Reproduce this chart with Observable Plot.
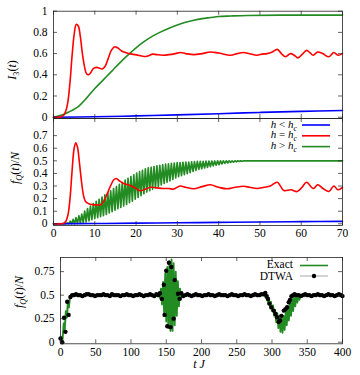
<!DOCTYPE html>
<html><head><meta charset="utf-8">
<script src="https://cdn.jsdelivr.net/npm/d3@7"></script>
<script src="https://cdn.jsdelivr.net/npm/@observablehq/plot@0.6"></script>
<style>
body{margin:0;background:#fff;}
#wrap{position:relative;width:360px;height:375px;overflow:hidden;background:#fff;}
#wrap svg, #wrap svg text{font-family:'Liberation Serif','DejaVu Serif',serif !important;}
</style></head><body><div id="wrap"></div>
<script>
// ---------- DATA ----------
// Panel 1: I_3(t)
const i3Blue = [[0,0],[10,0.004],[20,0.012],[30,0.022],[40,0.033],[50,0.045],[60,0.055],[70,0.063]];
const i3Red = [[0,0],[1,0],[2,0.005],[2.5,0.02],[3,0.06],[3.5,0.15],[4,0.33],[4.5,0.58],[5,0.78],[5.5,0.875],[6,0.86],[6.5,0.76],[7,0.6],[7.5,0.48],[8,0.41],[8.5,0.4],[9,0.42],[9.7,0.46],[10.4,0.47],[11,0.465],[11.8,0.455],[12.5,0.48],[13.3,0.56],[14,0.63],[14.8,0.665],[15.5,0.655],[16.5,0.625],[17.8,0.605],[19,0.595],[20.5,0.585],[22,0.572],[23,0.58],[24,0.595],[25,0.59],[26.5,0.585],[28,0.59],[29.5,0.6],[30.7,0.61],[32,0.6],[34,0.59],[36,0.6],[38,0.615],[40,0.605],[42.9,0.585],[44.5,0.6],[46,0.61],[47.5,0.598],[49.3,0.585],[50.5,0.595],[51.7,0.6],[53,0.615],[54.2,0.64],[55.2,0.6],[56.2,0.57],[57.4,0.6],[58.3,0.585],[59.2,0.56],[60.3,0.595],[61.3,0.63],[62.1,0.61],[62.9,0.585],[64,0.615],[65.2,0.6],[66.7,0.57],[67.9,0.61],[68.9,0.585],[70,0.6]];
const i3Green = [[0,0],[2,0.02],[4,0.055],[5,0.075],[6,0.1],[8,0.18],[10,0.27],[12,0.35],[14,0.43],[16,0.51],[18,0.585],[20,0.655],[22,0.715],[24,0.765],[26,0.805],[28,0.84],[30,0.87],[32,0.895],[34,0.915],[36,0.93],[38,0.94],[40,0.95],[43,0.955],[47,0.96],[55,0.963],[70,0.963]];

// Panel 2: f_Q(t)/N
const fqBlue = [[0,0],[10,0.002],[20,0.005],[30,0.008],[40,0.011],[50,0.014],[60,0.017],[70,0.019]];
const fqRed = [[0,0],[2,0],[2.5,0.005],[3,0.02],[3.5,0.07],[4,0.2],[4.5,0.42],[5,0.6],[5.4,0.643],[5.8,0.61],[6.3,0.48],[6.8,0.33],[7.3,0.22],[7.8,0.175],[8.5,0.16],[9.5,0.152],[10.5,0.15],[11.3,0.15],[12,0.17],[12.9,0.23],[13.8,0.3],[14.6,0.35],[15.2,0.36],[16,0.34],[17,0.32],[18,0.31],[19.5,0.29],[21,0.262],[22.2,0.275],[23.5,0.29],[25,0.285],[26.7,0.28],[28,0.28],[29,0.275],[30.7,0.3],[32,0.29],[34,0.278],[36,0.295],[38,0.31],[40,0.29],[42,0.278],[44,0.29],[46,0.298],[47.5,0.29],[49.3,0.28],[51,0.29],[52.5,0.3],[54.2,0.33],[55.8,0.264],[57.5,0.27],[59,0.256],[60.2,0.29],[61.3,0.33],[62.9,0.28],[64,0.31],[65.3,0.28],[66.7,0.256],[67.9,0.3],[68.9,0.27],[70,0.29]];
// fast oscillation of h > h_c: trough and crest values, one pair per period
const fqGreenStart = 3, fqGreenPeriod = 0.7, fqGreenEnd = 70;
const fqGreenTroughs = [0,0,0,0,0.003,0.006,0.009,0.015,0.023,0.032,0.04,0.048,0.057,0.065,0.075,0.086,0.097,0.108,0.12,0.13,0.142,0.154,0.168,0.18,0.196,0.21,0.224,0.238,0.252,0.263,0.274,0.285,0.296,0.308,0.32,0.33,0.341,0.352,0.364,0.374,0.382,0.39,0.399,0.407,0.416,0.424,0.432,0.437,0.443,0.448,0.454,0.46,0.465,0.47,0.475,0.479,0.483,0.487,0.49,0.492,0.495,0.497,0.499];
const fqGreenCrests = [0.007,0.021,0.035,0.049,0.063,0.077,0.101,0.121,0.141,0.16,0.178,0.195,0.212,0.229,0.246,0.262,0.279,0.296,0.313,0.33,0.346,0.361,0.375,0.389,0.402,0.414,0.425,0.436,0.444,0.449,0.455,0.46,0.465,0.469,0.473,0.476,0.479,0.482,0.485,0.486,0.488,0.489,0.49,0.492,0.493,0.495,0.495,0.496,0.497,0.497,0.498,0.499,0.5,0.5,0.5,0.5,0.5,0.5,0.5,0.5,0.5,0.5,0.5];

// Panel 3: Exact vs DTWA, t J from 0 to 400
const exact = [[0,0],[1.5,0.06],[3,0.03],[4.5,0.2],[6,0.13],[7.5,0.33],[9,0.26],[10.5,0.43],[12,0.37],[13.5,0.49],[15,0.47],[16.5,0.5],[138,0.5],[139.5,0.52],[141,0.47],[142.5,0.57],[144,0.4],[145.5,0.64],[147,0.3],[148.5,0.73],[150,0.22],[151.5,0.8],[153,0.15],[154.5,0.86],[156,0.12],[157.5,0.88],[159,0.12],[160.5,0.84],[162,0.18],[163.5,0.75],[165,0.28],[166.5,0.65],[168,0.38],[169.5,0.57],[171,0.46],[172.5,0.52],[174,0.49],[175.5,0.5],[288,0.5],[289.5,0.5],[291,0.47],[292.5,0.5],[294,0.43],[295.5,0.47],[297,0.38],[298.5,0.43],[300,0.33],[301.5,0.39],[303,0.28],[304.5,0.34],[306,0.21],[307.5,0.31],[309,0.15],[310.5,0.28],[312,0.11],[313.5,0.26],[315,0.1],[316.5,0.28],[318,0.13],[319.5,0.33],[321,0.18],[322.5,0.38],[324,0.23],[325.5,0.42],[327,0.28],[328.5,0.46],[330,0.33],[331.5,0.49],[333,0.38],[334.5,0.5],[336,0.42],[337.5,0.5],[339,0.45],[340.5,0.5],[342,0.48],[343.5,0.5],[345,0.5],[400,0.5]];
const dtwaRise = [[0,0.04],[2.5,0],[5,0.26],[7,0.11],[9.5,0.43],[11.5,0.29],[14,0.48],[16.5,0.5]];
const dtwaFlat1 = [[19,0.5],[22,0.51],[25,0.5],[28,0.5],[31,0.49],[34,0.5],[37,0.51],[40,0.51],[43,0.5],[46,0.5],[49,0.49],[52,0.5],[55,0.5],[58,0.5],[61,0.51],[64,0.5],[67,0.5],[70,0.49],[73,0.51],[76,0.5],[79,0.5],[82,0.5],[85,0.49],[88,0.5],[91,0.5],[94,0.51],[97,0.5],[100,0.5],[103,0.49],[106,0.5],[109,0.5],[112,0.51],[115,0.5],[118,0.49],[121,0.5],[124,0.5],[127,0.51],[130,0.5],[133,0.49],[136,0.51],[138.5,0.5]];
const dtwaBurst = [[141,0.52],[143.8,0.46],[146.5,0.61],[147.6,0.29],[150,0.76],[151.5,0.17],[153.8,0.845],[156,0.16],[157.3,0.8],[160.5,0.25],[162,0.66],[166.7,0.515],[169,0.46],[171.5,0.52],[174,0.49]];
const dtwaFlat2 = [[177,0.5],[180,0.51],[183,0.5],[186,0.49],[189,0.5],[192,0.51],[195,0.5],[198,0.5],[201,0.49],[204,0.5],[207,0.5],[210,0.51],[213,0.5],[216,0.5],[219,0.49],[222,0.5],[225,0.51],[228,0.5],[231,0.5],[234,0.5],[237,0.49],[240,0.5],[243,0.51],[246,0.5],[249,0.5],[252,0.49],[255,0.5],[258,0.5],[261,0.51],[264,0.5],[267,0.5],[270,0.49],[273,0.5],[276,0.51],[279,0.5],[282,0.5],[285,0.51]];
const dtwaDip = [[288,0.51],[290.5,0.524],[292.5,0.49],[294.3,0.46],[296.2,0.41],[299,0.37],[302.4,0.336],[304.8,0.3],[307.1,0.265],[309.5,0.215],[311.5,0.23],[313.3,0.28],[316.7,0.336],[319,0.35],[321.4,0.371],[323.8,0.424],[325.5,0.45],[327.6,0.488],[330,0.5]];
const dtwaFlat3 = [[332,0.51],[335,0.5],[338,0.5],[341,0.49],[344,0.5],[347,0.51],[350,0.5],[353,0.5],[356,0.49],[359,0.5],[362,0.5],[365,0.51],[368,0.5],[371,0.5],[374,0.49],[377,0.5],[380,0.51],[383,0.5],[386,0.5],[389,0.49],[392,0.5],[395,0.51],[398,0.5],[400,0.49]];

// ticks
const ticks1Y = [0,0.2,0.4,0.6,0.8,1];
const ticks2Y = [0,0.1,0.2,0.3,0.4,0.5,0.6,0.7];
const ticks3Y = [0,0.25,0.5,0.75];
const ticks12X = [0,10,20,30,40,50,60,70];
const ticks3X = [0,50,100,150,200,250,300,350,400];

// legend labels
const legend2 = [["<","#0000ff"],["=","#ff0000"],[">","#228b22"]];

// ---------- BUILD ----------
const FONT = "'Liberation Serif', 'DejaVu Serif', serif";
const BLUE = "#0000ff", RED = "#ff0000", GREEN = "#228b22";
const wrap = document.getElementById("wrap");

const fqGreen = [[0,0],[fqGreenStart,0]];
fqGreenTroughs.forEach((v,k) => {
  fqGreen.push([fqGreenStart + k*fqGreenPeriod, v]);
  fqGreen.push([fqGreenStart + (k+0.5)*fqGreenPeriod, fqGreenCrests[k]]);
});
fqGreen.push([fqGreenEnd, 0.5]);
const dtwa = [...dtwaRise, ...dtwaFlat1, ...dtwaBurst, ...dtwaFlat2, ...dtwaDip, ...dtwaFlat3];

const X = d => d[0], Y = d => d[1];

function panel(o) {
  const {top, height, mt, mb, ml, mr, xd, yd, xt, yt, showX, xpad, marks} = o;
  const W = 360, TL = 4;
  const dx = TL * (xd[1]-xd[0]) / (W-ml-mr);
  const dy = TL * (yd[1]-yd[0]) / (height-mt-mb);
  const tick = {stroke: "#222", strokeWidth: 0.7};
  const svg = Plot.plot({
    width: W, height, marginTop: mt, marginBottom: mb, marginLeft: ml, marginRight: mr,
    style: {background: "transparent", overflow: "visible", fontFamily: FONT, fontSize: "11.5px", color: "#000"},
    x: showX ? {domain: xd} : {domain: xd, axis: null},
    y: {domain: yd},
    marks: [
      ...marks,
      Plot.ruleY(yt, {y: d => d, x1: () => xd[0], x2: () => xd[0] + dx, ...tick}),
      Plot.ruleY(yt, {y: d => d, x1: () => xd[1] - dx, x2: () => xd[1], ...tick}),
      Plot.ruleX(xt, {x: d => d, y1: () => yd[0], y2: () => yd[0] + dy, ...tick}),
      Plot.ruleX(xt, {x: d => d, y1: () => yd[1] - dy, y2: () => yd[1], ...tick}),
      Plot.frame({stroke: "#222", strokeWidth: 0.8}),
      Plot.axisY(yt, {tickSize: 0, tickPadding: 6, tickFormat: d => String(d), label: null, fontFamily: FONT}),
      showX ? Plot.axisX(xt, {tickSize: 0, tickPadding: xpad, tickFormat: d => String(d), label: null, fontFamily: FONT}) : null
    ]
  });
  svg.style.position = "absolute"; svg.style.top = top + "px"; svg.style.left = "0px";
  wrap.appendChild(svg);
}

const lw = 1.6;
panel({top: 0, height: 125, mt: 10.7, mb: 7, ml: 53, mr: 18, xd: [0,70], yd: [-0.0123, 1],
  xt: ticks12X, yt: ticks1Y, showX: false,
  marks: [
    Plot.line(i3Green, {x: X, y: Y, stroke: GREEN, strokeWidth: lw, curve: "catmull-rom"}),
    Plot.line(i3Blue, {x: X, y: Y, stroke: BLUE, strokeWidth: lw, curve: "catmull-rom"}),
    Plot.line(i3Red, {x: X, y: Y, stroke: RED, strokeWidth: lw, curve: "catmull-rom"})
  ]});

panel({top: 110, height: 135, mt: 8, mb: 20, ml: 53, mr: 18, xd: [0,70], yd: [-0.0135, 0.836],
  xt: ticks12X, yt: ticks2Y, showX: true, xpad: 3.5,
  marks: [
    Plot.line(fqGreen, {x: X, y: Y, stroke: GREEN, strokeWidth: 1.7}),
    Plot.line(fqBlue, {x: X, y: Y, stroke: BLUE, strokeWidth: lw, curve: "catmull-rom"}),
    Plot.line(fqRed, {x: X, y: Y, stroke: RED, strokeWidth: lw, curve: "catmull-rom"})
  ]});

panel({top: 245, height: 130, mt: 12, mb: 31.7, ml: 60, mr: 18, xd: [0,400], yd: [-0.017, 0.9],
  xt: ticks3X, yt: ticks3Y, showX: true, xpad: 4,
  marks: [
    Plot.line(dtwa, {x: X, y: Y, stroke: "#d4d4d4", strokeWidth: 0.8}),
    Plot.line(exact, {x: X, y: Y, stroke: GREEN, strokeWidth: 1.8}),
    Plot.dot(dtwa, {x: X, y: Y, r: 2.2, fill: "#000", stroke: "none"})
  ]});

// ---------- overlay: axis titles & legends ----------
const ov = d3.select(wrap).append("svg")
  .attr("width", 360).attr("height", 375)
  .style("position", "absolute").style("left", 0).style("top", 0)
  .attr("font-family", FONT).attr("font-size", "12px");

function rich(parent, parts, attrs, size) {
  const t = parent.append("text").attr("font-size", size || 12);
  Object.entries(attrs).forEach(([k, v]) => t.attr(k, v));
  let shifted = 0;
  parts.forEach(([s, k]) => {
    const ts = t.append("tspan").text(s);
    if (k.includes("i")) ts.attr("font-style", "italic");
    if (k.includes("s")) {
      ts.attr("font-size", (size || 12) * 0.7).attr("dy", 3);
      shifted = 3;
    } else if (shifted) {
      ts.attr("dy", -shifted);
      shifted = 0;
    }
  });
  return t;
}
const fqLabel = [["f","i"],["Q","is"],["(",""],["t","i"],[")/",""],["N","i"]];
rich(ov, [["I","i"],["3","s"],["(",""],["t","i"],[")",""]], {transform: "translate(12,70) rotate(-90)", "text-anchor": "middle", dy: "0.35em"});
rich(ov, fqLabel, {transform: "translate(15,168) rotate(-90)", "text-anchor": "middle", dy: "0.35em"});
rich(ov, fqLabel, {transform: "translate(19,292) rotate(-90)", "text-anchor": "middle", dy: "0.35em"});
rich(ov, [["t","i"],[" ",""],["J","i"]], {x: 199, y: 368, "text-anchor": "middle"});

// legend (middle panel)
legend2.forEach(([op, col], i) => {
  const yc = 124.5 + i * 10.8;
  rich(ov, [["h","i"],[" " + op + " ",""],["h","i"],["c","is"]], {x: 297, y: yc + 3}, 11).attr("text-anchor", "end");
  ov.append("line").attr("x1", 302).attr("x2", 330).attr("y1", yc + 0.5).attr("y2", yc + 0.5)
    .attr("stroke", col).attr("stroke-width", 1.6);
});
// legend (bottom panel)
rich(ov, [["Exact",""]], {x: 293, y: 268, "text-anchor": "end"}, 11.5);
ov.append("line").attr("x1", 300).attr("x2", 328).attr("y1", 265.5).attr("y2", 265.5).attr("stroke", GREEN).attr("stroke-width", 1.6);
rich(ov, [["DTWA",""]], {x: 293, y: 280, "text-anchor": "end"}, 11.5);
ov.append("line").attr("x1", 300).attr("x2", 328).attr("y1", 276).attr("y2", 276).attr("stroke", "#c8c8c8").attr("stroke-width", 1.6);
ov.append("circle").attr("cx", 314).attr("cy", 276).attr("r", 2.2).attr("fill", "#000");
</script></body></html>
